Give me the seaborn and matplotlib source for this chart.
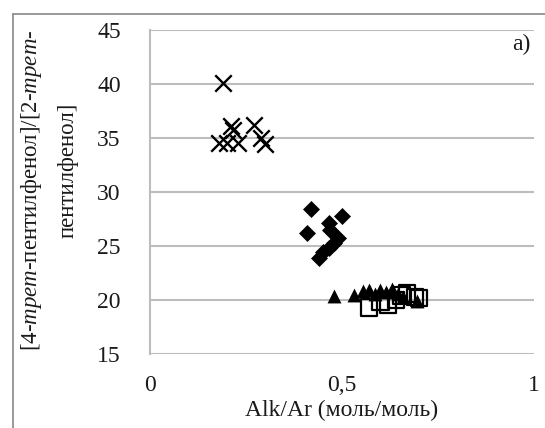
import matplotlib
matplotlib.use("Agg")
import matplotlib.pyplot as plt
import seaborn as sns
import pandas as pd
from matplotlib.lines import Line2D

# Data
x_cross = [0.19, 0.21, 0.27, 0.215, 0.18, 0.20, 0.23, 0.29, 0.30]
y_cross = [40.1, 36.1, 36.2, 35.7, 34.5, 34.5, 34.5, 35.0, 34.4]

x_diam = [0.42, 0.50, 0.465, 0.41, 0.47, 0.49, 0.48, 0.465, 0.45, 0.44]
y_diam = [28.4, 27.8, 27.1, 26.2, 26.5, 25.7, 25.3, 24.8, 24.4, 23.9]

x_tri = [0.48, 0.53, 0.555, 0.57, 0.585, 0.60, 0.615, 0.63, 0.645, 0.66, 0.695]
y_tri = [20.4, 20.5, 20.8, 20.9, 20.6, 20.9, 20.7, 21.0, 20.6, 20.3, 19.9]

x_sq = [0.57, 0.60, 0.62, 0.64, 0.655, 0.67, 0.69, 0.70]
y_sq = [19.3, 19.8, 19.6, 20.0, 20.4, 20.6, 20.3, 20.2]

x_ticks = [0, 0.5, 1]
x_ticklabels = ["0", "0,5", "1"]
y_ticks = [15, 20, 25, 30, 35, 40, 45]

df = pd.DataFrame({
    "x": x_cross + x_diam + x_tri + x_sq,
    "y": y_cross + y_diam + y_tri + y_sq,
    "g": ["cross"] * len(x_cross) + ["diam"] * len(x_diam) + ["tri"] * len(x_tri) + ["sq"] * len(x_sq),
})

sns.set_theme(style="white")
plt.rcParams["font.family"] = ["Liberation Serif", "DejaVu Serif"]
plt.rcParams["mathtext.fontset"] = "custom"
plt.rcParams["mathtext.rm"] = "Liberation Serif"
plt.rcParams["mathtext.it"] = "Liberation Serif:italic"

TXT = "#1a1a1a"
fig = plt.figure(figsize=(5.45, 4.28), dpi=100)
ax = fig.add_axes([150 / 545, 1 - 354 / 428, 384 / 545, 324 / 428])

ax.yaxis.grid(True, color="#bdbdbd", linewidth=1.5)
ax.set_axisbelow(True)

sub = df[df.g == "cross"]
sns.scatterplot(data=sub, x="x", y="y", marker="x", color="black", s=140, linewidth=1.7, ax=ax, legend=False)
sub = df[df.g == "diam"]
sns.scatterplot(data=sub, x="x", y="y", marker="D", color="black", s=75, linewidth=0, ax=ax, legend=False)
sub = df[df.g == "tri"]
sns.scatterplot(data=sub, x="x", y="y", marker="^", color="black", s=100, linewidth=0, ax=ax, legend=False)
sub = df[df.g == "sq"]
ax.scatter(sub.x, sub.y, marker="s", s=140, facecolors="none", edgecolors="black", linewidths=1.6, zorder=3)

ax.set_xlim(0, 1)
ax.set_ylim(15, 45)
ax.set_xticks(x_ticks)
ax.set_xticklabels(x_ticklabels)
ax.set_yticks(y_ticks)
ax.tick_params(axis="both", labelsize=17, length=0, colors=TXT)
ax.tick_params(axis="x", pad=15)
ax.tick_params(axis="y", pad=21)
for s in ["top", "right", "bottom"]:
    ax.spines[s].set_visible(False)
ax.spines["left"].set_color("#bdbdbd")
ax.spines["left"].set_linewidth(1.5)

ax.set_xlabel("Alk/Ar (моль/моль)", fontsize=17, color=TXT, labelpad=3)
ax.set_ylabel("")

fig.text(32 / 545, 1 - 190 / 428, r"[4-$\mathit{трет}$-пентилфенол]/[2-$\mathit{трет}$-",
         rotation=90, ha="center", va="center", fontsize=16.5, color=TXT)
fig.text(68 / 545, 1 - 170 / 428, "пентилфенол]",
         rotation=90, ha="center", va="center", fontsize=16.5, color=TXT)

ax.text(0.99, 0.955, "a)", transform=ax.transAxes, ha="right", va="center", fontsize=17, color=TXT)

# outer frame
fig.add_artist(Line2D([13 / 545, 13 / 545], [0, 1 - 14 / 428], transform=fig.transFigure, color="#888888", linewidth=1.2))
fig.add_artist(Line2D([13 / 545, 1], [1 - 14 / 428, 1 - 14 / 428], transform=fig.transFigure, color="#888888", linewidth=1.2))

fig.savefig("out.png", dpi=100)
